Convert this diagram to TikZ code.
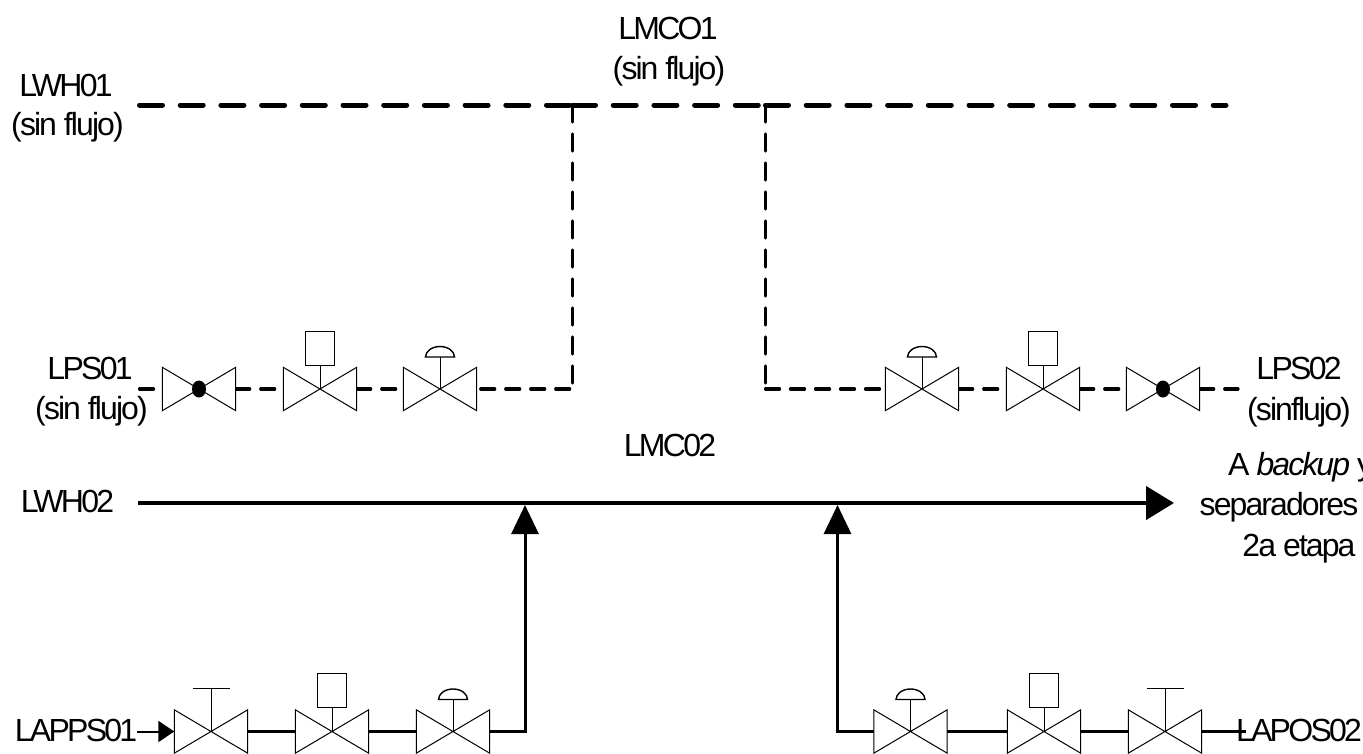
\documentclass[tikz,border=0pt]{standalone}
\usepackage{fontspec}
\setmainfont{Liberation Sans}[LetterSpace=-6]
\newfontfamily\capsfont{Liberation Sans}[LetterSpace=-8.5]
\usetikzlibrary{positioning,arrows.meta}

\tikzset{
  tag/.style={inner sep=0pt,anchor=base,font=\fontsize{32}{36}\selectfont},
  captag/.style={tag,font=\capsfont\fontsize{32}{36}\selectfont},
  valve/.style={minimum width=73pt,minimum height=43pt,inner sep=0pt},
  thin line/.style={line width=1pt},
  actuator/.style={draw,thin line,minimum width=29pt,minimum height=34pt,inner sep=0pt},
  header/.style={line width=5pt,line cap=round,dash pattern=on 23pt off 17.7pt},
  riser/.style={line width=3.2pt,line cap=round,dash pattern=on 17pt off 12pt},
  nodeflow/.style={line width=3.2pt,line cap=round,dash pattern=on 14pt off 11pt},
  mainflow/.style={line width=4.5pt},
  flow/.style={line width=3pt},
}

\begin{document}
\begin{tikzpicture}[x=1pt,y=-1pt,on grid]
    \useasboundingbox (0,0) rectangle (1363,753);
    % top line, no flow
    \node[captag] (LWHa) at (66,96) {LWH01};
    \node[tag] (LWHaf) at (67.5,135.5) {(sin flujo)};
    \node[captag] (LMCa) at (668,39) {LMCO1};
    \node[tag] (LMCaf) at (669,79) {(sin flujo)};
    \coordinate (HL) at (139.5,105);
    \coordinate (HR) at (1226,105);
    \coordinate (JA) at (572.5,105);
    \coordinate (JB) at (765.5,105);
    \draw[header] (HL) -- (JA);
    \draw[header] (JA) -- (JB);
    \draw[header] (JB) -- (HR);
    % valves under the top line
    \node[valve] (VA) at (199,389) {};
    \node[valve,right=121pt of VA] (VB) {};
    \node[valve,right=120pt of VB] (VC) {};
    \node[valve] (VD) at (922,389) {};
    \node[valve,right=121pt of VD] (VE) {};
    \node[valve,right=120pt of VE] (VF) {};
    \node[captag] (LPSa) at (90,379.5) {LPS01};
    \node[tag] (LPSaf) at (91.5,419.5) {(sin flujo)};
    \node[captag] (LPSb) at (1299,379.5) {LPS02};
    \node[tag] (LPSbf) at (1299,420) {(sinflujo)};
    \coordinate (PA) at (139.5,389);
    \coordinate (PB) at (1238,389);
    \coordinate (KA) at (VC.east -| JA);
    \coordinate (KB) at (VD.west -| JB);
    \draw[nodeflow] (PA) -- (VA.west);
    \draw[nodeflow] (VA.east) -- (VB.west);
    \draw[nodeflow] (VB.east) -- (VC.west);
    \draw[nodeflow,shorten <=4pt] (VC.east) -- (KA);
    \draw[riser] (JA) -- (KA);
    \draw[riser] (JB) -- (KB);
    \draw[nodeflow] (KB) -- (VD.west);
    \draw[nodeflow] (VD.east) -- (VE.west);
    \draw[nodeflow] (VE.east) -- (VF.west);
    \draw[nodeflow] (VF.east) -- (PB);
    % main line
    \node[captag] (LMCb) at (670,456) {LMC02};
    \node[captag] (LWHb) at (67.5,512.5) {LWH02};
    \node[tag,anchor=base west] (TA) at (1228,475) {A {\itshape backup} y};
    \node[tag,anchor=base west] (TB) at (1199.5,515) {separadores};
    \node[tag] (TC) at (1299,556) {2a etapa};
    \coordinate (ML) at (138,503);
    \coordinate (MR) at (1174,503);
    \coordinate (JC) at (525,505);
    \coordinate (JD) at (837.5,505);
    \draw[mainflow,-{Triangle[length=28pt,width=33pt]}] (ML) -- (MR);
    % valves under the main line
    \node[valve] (VG) at (211,731.5) {};
    \node[valve,right=121pt of VG] (VH) {};
    \node[valve,right=121pt of VH] (VI) {};
    \node[valve] (VJ) at (910.5,731.5) {};
    \node[valve,right=133.5pt of VJ] (VK) {};
    \node[valve,right=121pt of VK] (VL) {};
    \node[captag] (LAPa) at (76,741.5) {LAPPS01};
    \node[captag] (LAPb) at (1299,741.5) {LAPOS02};
    \coordinate (LE) at (1246,731.5);
    \draw[line width=2pt,-{Triangle[length=16pt,width=21pt]}] (LAPa.east |- VG) -- (VG.west);
    \draw[flow] (VG.east) -- (VH.west);
    \draw[flow] (VH.east) -- (VI.west);
    \draw[flow,-{Triangle[length=29pt,width=27pt]}] (VI.east) -| (JC);
    \draw[flow,-{Triangle[length=29pt,width=27pt]}] (VJ.west) -| (JD);
    \draw[flow] (VJ.east) -- (VK.west);
    \draw[flow] (VK.east) -- (VL.west);
    \draw[flow] (VL.east) -- (LE);
    % bodies of the valves
    \foreach \v in {VA,VB,VC,VD,VE,VF,VG,VH,VI,VJ,VK,VL}
      \draw[thin line,fill=white] (\v.north west) -- (\v.south east) -- (\v.north east) -- (\v.south west) -- cycle;
    % ball
    \foreach \v in {VA,VF}
      \fill (\v.center) ellipse (7pt and 8.5pt);
    % boxes
    \foreach \v in {VB,VE,VH,VK} {
      \node[actuator,above=41pt of \v] (\v box) {};
      \draw[thin line] (\v.center) -- (\v box.south);
    }
    % domes
    \foreach \v in {VC,VD,VI,VJ} {
      \coordinate[above=32pt of \v] (\v top);
      \draw[thin line] (\v.center) -- (\v top);
      \draw[line width=1.4pt] ([xshift=-14.5pt]\v top) arc[start angle=180,end angle=0,x radius=14.5pt,y radius=10.5pt] -- cycle;
    }
    % handwheels
    \foreach \v in {VG,VL} {
      \coordinate[above=43.5pt of \v] (\v top);
      \draw[thin line] (\v.center) -- (\v top);
      \draw[thin line] ([xshift=-18.5pt]\v top) -- ([xshift=18.5pt]\v top);
    }
\end{tikzpicture}
\end{document}
